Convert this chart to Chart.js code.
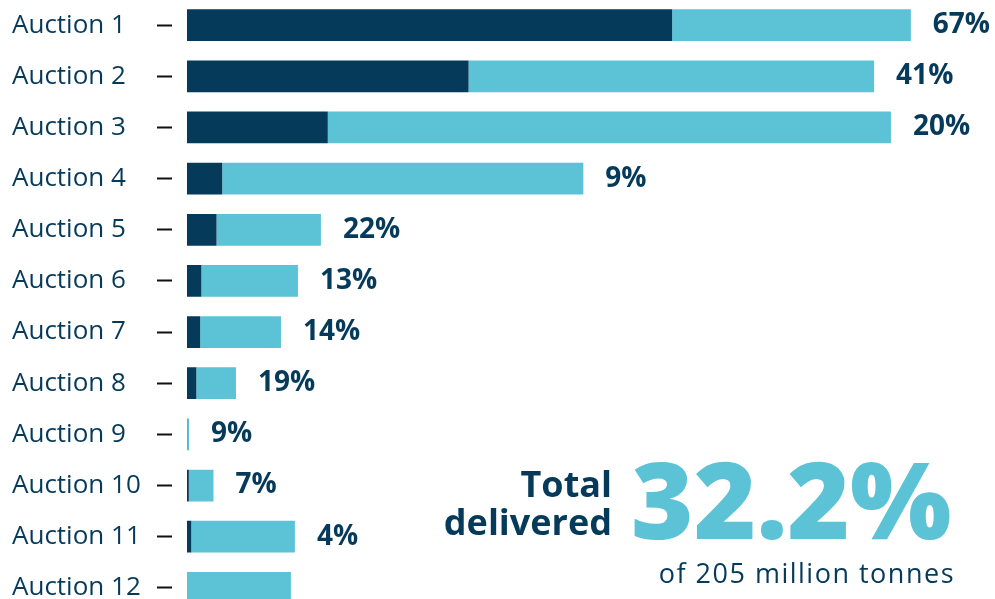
<!DOCTYPE html>
<html>
<head>
<meta charset="utf-8">
<script src="https://cdn.jsdelivr.net/npm/chart.js@4"></script>
<style>
  html, body { margin: 0; padding: 0; background: #ffffff; overflow: hidden; }
  #wrap { position: absolute; left: 0; top: -16px; width: 995px; height: 645px; }
</style>
</head>
<body>
<div id="wrap"><canvas id="c"></canvas></div>
<script>
// Categories
const auctions = ['Auction 1','Auction 2','Auction 3','Auction 4','Auction 5','Auction 6',
                  'Auction 7','Auction 8','Auction 9','Auction 10','Auction 11','Auction 12'];
// Delivered volume (million tonnes)
const delivered = [31.7, 18.4, 9.2, 2.3, 1.93, 0.94, 0.86, 0.61, 0.012, 0.12, 0.28, 0];
// Remaining (not yet delivered) volume (million tonnes)
const remaining = [15.6, 26.5, 36.8, 23.6, 6.82, 6.31, 5.28, 2.59, 0.118, 1.61, 6.77, 6.79];
// Share delivered labels
const pctLabels = ['67%','41%','20%','9%','22%','13%','14%','19%','9%','7%','4%',''];
// Headline texts
const totalLine1 = 'Total';
const totalLine2 = 'delivered';
const totalValue = '32.2%';
const totalNote = 'of 205 million tonnes';

const NAVY = '#063a5a';
const CYAN = '#5cc2d5';

const annotate = {
  id: 'annotate',
  afterDatasetsDraw(chart) {
    const ctx = chart.ctx;
    const m0 = chart.getDatasetMeta(0).data;
    const m1 = chart.getDatasetMeta(1).data;
    ctx.save();
    ctx.fillStyle = NAVY;
    ctx.font = 'bold 28px "Open Sans"';
    ctx.textAlign = 'left';
    ctx.textBaseline = 'middle';
    pctLabels.forEach((t, i) => {
      if (!t) return;
      const end = Math.max(m0[i].x, m1[i].x);
      ctx.fillText(t, end + 22, m1[i].y);
    });
    ctx.restore();
  },
  afterDraw(chart) {
    const ctx = chart.ctx;
    const dy = 15; // container offset
    ctx.save();
    ctx.textBaseline = 'alphabetic';
    ctx.fillStyle = NAVY;
    ctx.textAlign = 'right';
    ctx.font = 'bold 36px "Open Sans"';
    ctx.fillText(totalLine1, 612, 498 + dy);
    ctx.fillText(totalLine2, 612, 536 + dy);
    ctx.fillStyle = CYAN;
    ctx.textAlign = 'left';
    ctx.font = '800 107px "Open Sans"';
    ctx.fillText(totalValue, 631, 540 + dy);
    ctx.fillStyle = NAVY;
    ctx.textAlign = 'right';
    ctx.font = '27px "Open Sans"';
    try { ctx.letterSpacing = '1.5px'; } catch (e) {}
    ctx.fillText(totalNote, 955, 584 + dy);
    ctx.restore();
  }
};

new Chart(document.getElementById('c'), {
  type: 'bar',
  data: {
    labels: auctions,
    datasets: [
      { label: 'Delivered', data: delivered, backgroundColor: NAVY, borderWidth: 0 },
      { label: 'Remaining', data: remaining, backgroundColor: CYAN, borderWidth: 0 }
    ]
  },
  options: {
    indexAxis: 'y',
    responsive: true,
    maintainAspectRatio: false,
    animation: false,
    layout: { padding: { left: 12, right: 0, top: 0, bottom: 0 } },
    datasets: { bar: { categoryPercentage: 1, barPercentage: 0.62 } },
    plugins: { legend: { display: false }, tooltip: { enabled: false } },
    scales: {
      x: { stacked: true, display: false, min: 0, max: 52.8 },
      y: {
        stacked: true,
        position: 'left',
        border: { display: false },
        grid: {
          offset: false,
          drawOnChartArea: false,
          drawTicks: true,
          tickLength: 30,
          tickColor: '#111111',
          tickWidth: 2,
          tickBorderDash: [15, 15]
        },
        ticks: {
          autoSkip: false,
          crossAlign: 'far',
          color: NAVY,
          font: { family: '"Open Sans"', size: 26 },
          padding: 0
        },
        afterFit(scale) { scale.width = 175; }
      }
    }
  },
  plugins: [annotate]
});
</script>
</body>
</html>
